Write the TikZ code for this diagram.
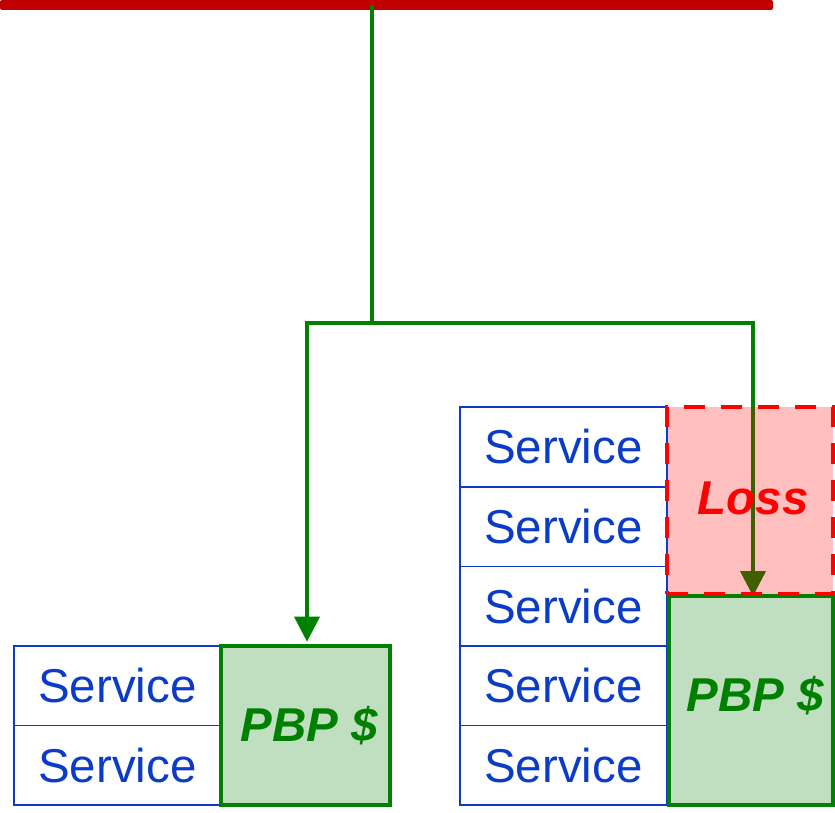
\documentclass[tikz,border=0pt]{standalone}
\usepackage{fontspec}
\setmainfont{Liberation Sans}
\usepackage{tikz}
\usetikzlibrary{arrows.meta, positioning, calc}
\definecolor{barRed}{HTML}{C00000}
\definecolor{svcBlue}{HTML}{0A3CC8}
\definecolor{pbpGreen}{HTML}{008000}
\definecolor{pbpFill}{HTML}{C0DFC0}
\definecolor{lossRed}{HTML}{FF0000}

\begin{document}
\begin{tikzpicture}[
  x=1pt, y=1pt,
  font=\fontsize{47.5}{56}\selectfont,
  svc/.style  ={draw=svcBlue, text=svcBlue, line width=1.6pt, inner sep=0pt, outer sep=0pt,
                minimum width=207pt, minimum height=79.6pt},
  pbp/.style  ={draw=pbpGreen, fill=pbpFill, text=pbpGreen, line width=4pt, inner sep=0pt,
                outer sep=0pt, font=\fontsize{47.5}{56}\selectfont\bfseries\itshape},
  loss/.style ={draw=lossRed, dash pattern=on 21pt off 16pt, line width=3.5pt, fill=lossRed,
                fill opacity=0.25, text opacity=1, text=lossRed, inner sep=0pt, outer sep=0pt,
                minimum width=166pt, minimum height=187pt, font=\fontsize{47.5}{56}\selectfont\bfseries\itshape},
  feed/.style ={draw=pbpGreen, line width=3.5pt},
  arr/.style  ={feed, -{Triangle[length=25pt, width=25pt]}}
]
\useasboundingbox (0,0) rectangle (835,812);

% the red bar at the top
\fill[barRed, rounded corners=2pt] (0,802) rectangle (773,812);
\coordinate (tap) at (372,807);

% left group
\node[svc] (svcA1) at (117.5,126.5) {Service};
\node[svc, below=0pt of svcA1] (svcA2) {Service};
\node[pbp, minimum width=169pt, minimum height=159pt, anchor=north west] (pbpA)
  at (svcA1.north east) {\hspace*{8pt}\raisebox{3pt}{PBP \$}};

% right group
\node[svc] (svcB1) at (563.5,365) {Service};
\node[svc, below=0pt of svcB1] (svcB2) {Service};
\node[svc, below=0pt of svcB2] (svcB3) {Service};
\node[svc, below=0pt of svcB3] (svcB4) {Service};
\node[svc, below=0pt of svcB4] (svcB5) {Service};
\node[pbp, minimum width=164pt, minimum height=209pt, anchor=north] (pbpB)
  at ($(svcB1.north east)+(84,-189)$) {\hspace*{8pt}\raisebox{14pt}{PBP \$}};

% connectors
\coordinate (split) at (372,489);
\draw[feed] (tap) -- (split);
\draw[arr, shorten >=4pt] (split) -| ($(pbpA.north)+(1.5,0)$);
\draw[arr] (split) -| ($(pbpB.north)+(2,0)$);

% the loss, laid over the arrow
\node[loss, anchor=north west] (lossB) at (svcB1.north east) {\hspace*{6pt}\raisebox{6pt}{Loss}};
\end{tikzpicture}
\end{document}
